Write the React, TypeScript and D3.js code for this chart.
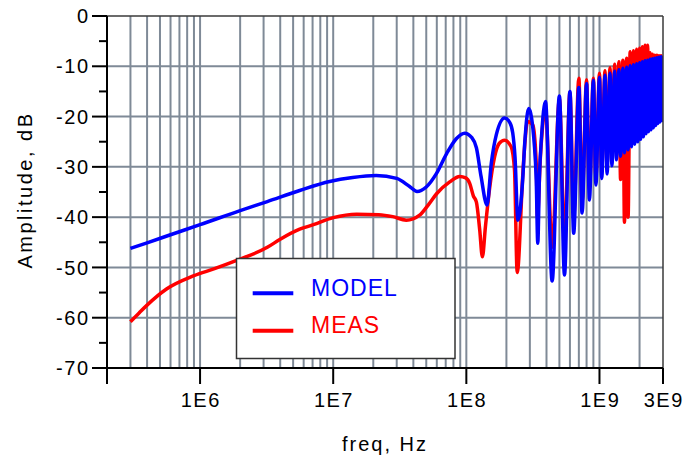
import React from 'react';
import * as d3 from 'd3';

const W = 685;
const H = 459;
const PL = 107, PR = 663, PT = 16, PB = 368;

// x axis ticks
const xTickValues = [1e6, 1e7, 1e8, 1e9, 3e9];
const xTickLabels = ['1E6', '1E7', '1E8', '1E9', '3E9'];
const yTickValues = [0, -10, -20, -30, -40, -50, -60, -70];
const yMinorTicks = [-5, -15, -25, -35, -45, -55, -65];

// MODEL: smooth low-frequency part and first resonances [freq Hz, dB]
const modelLow: [number, number][] = [
  [3e5, -46.2], [4e5, -45.1], [6e5, -43.5], [1e6, -41.5], [2e6, -38.7],
  [3.2e6, -36.9], [5.6e6, -34.7], [9.4e6, -32.9], [1.4e7, -32.1], [2.1e7, -31.7],
  [3e7, -32.3], [3.75e7, -33.9], [4.26e7, -34.9], [5e7, -34.0], [5.94e7, -31.4],
  [7.1e7, -27.4], [8.4e7, -24.4], [9.7e7, -23.3], [1.1e8, -24.2], [1.19e8, -26.2], [1.29e8, -31.9],
  [1.43e8, -37.6], [1.54e8, -29.3], [1.68e8, -23.6], [1.94e8, -20.3], [2.12e8, -21.2], [2.23e8, -23.2],
  [2.32e8, -28], [2.44e8, -40.6], [2.65e8, -32.6], [2.75e8, -25], [2.94e8, -18.4],
  [3.25e8, -26], [3.35e8, -32.6], [3.44e8, -45.2], [3.54e8, -32], [3.67e8, -24],
  [3.93e8, -17],
];

// MEAS: smooth low-frequency part and first resonances [freq Hz, dB]
const measLow: [number, number][] = [
  [3e5, -60.8], [3.5e5, -59], [4e5, -57.5], [5.6e5, -54.3], [8.9e5, -51.7],
  [1.3e6, -50.2], [1.8e6, -48.8], [3.2e6, -46], [4e6, -44.4], [5.6e6, -42.4],
  [7.1e6, -41.5], [1e7, -40.1], [1.5e7, -39.4], [2.2e7, -39.5], [2.8e7, -39.9],
  [3.54e7, -40.6], [4.46e7, -39.6], [5.2e7, -37.5], [6e7, -35.3], [7.5e7, -33],
  [8.9e7, -31.9], [9.9e7, -32.2], [1.06e8, -33.3], [1.13e8, -35.8], [1.19e8, -37],
  [1.26e8, -42.5], [1.32e8, -47.9], [1.39e8, -42], [1.49e8, -34.6], [1.63e8, -28],
  [1.77e8, -25.3], [1.94e8, -24.7], [2.17e8, -26], [2.3e8, -30.6], [2.41e8, -51],
  [2.65e8, -31.9], [2.74e8, -26], [2.88e8, -21], [3.16e8, -21.7], [3.35e8, -29.3],
  [3.42e8, -40], [3.6e8, -28], [3.93e8, -18.5],
];

// High-frequency resonance peaks (5E8 .. 3E9) and nulls (4.4E8 .. 2.94E9)
const hfPeakFreq = [
  5e8, 6e8, 7e8, 8e8, 9e8, 1.0e9, 1.1e9, 1.2e9, 1.3e9, 1.4e9, 1.5e9, 1.6e9, 1.7e9,
  1.8e9, 1.9e9, 2.0e9, 2.1e9, 2.2e9, 2.3e9, 2.4e9, 2.5e9, 2.6e9, 2.7e9, 2.8e9, 2.9e9, 3.0e9,
];
const hfNullFreq = [
  4.41e8, 5.46e8, 6.4e8, 7.4e8, 8.4e8, 9.4e8, 1.04e9, 1.14e9, 1.24e9, 1.34e9, 1.44e9,
  1.54e9, 1.64e9, 1.74e9, 1.84e9, 1.94e9, 2.04e9, 2.14e9, 2.24e9, 2.34e9, 2.44e9,
  2.54e9, 2.64e9, 2.74e9, 2.84e9, 2.94e9,
];
const modelPeakDb = [
  -15.9, -15.0, -14.2, -13.4, -12.8, -12.2, -11.8, -11.4, -11.0, -10.7, -10.4, -10.2, -9.9,
  -9.7, -9.5, -9.3, -9.1, -8.9, -8.8, -8.6, -8.5, -8.4, -8.3, -8.2, -8.1, -8.0,
];
const modelNullDb = [
  -52.7, -51.5, -43.2, -39.2, -36.6, -33.6, -32.3, -31.4, -29.8, -28.6, -27.9, -27.2, -26.6,
  -26.0, -25.5, -25.0, -24.5, -24.0, -23.4, -23.0, -22.6, -22.2, -21.8, -21.4, -21.1, -20.8,
];
const measPeakDb = [
  -16.5, -15.2, -12.4, -12.7, -12.4, -11.4, -10.9, -10.3, -9.6, -9.1, -8.8, -8.4, -7.1,
  -6.9, -6.6, -6.4, -6.1, -5.8, -5.8, -7.3, -7.6, -7.8, -7.8, -7.9, -7.9, -8.0,
];
const measNullDb = [
  -46, -45, -40, -37, -34.5, -32, -30.5, -29.5, -28, -27, -32.5, -41, -40,
  -25, -24.5, -24, -23.5, -23, -22.5, -22, -21.6, -21.2, -20.8, -20.4, -20.1, -19.8,
];

function buildSeries(
  low: [number, number][],
  peakDb: number[],
  nullDb: number[]
): [number, number][] {
  const pts: [number, number][] = [...low];
  hfPeakFreq.forEach((f, i) => pts.push([f, peakDb[i]]));
  hfNullFreq.forEach((f, i) => pts.push([f, nullDb[i]]));
  return pts.sort((a, b) => a[0] - b[0]);
}

const modelSeries = buildSeries(modelLow, modelPeakDb, modelNullDb);
const measSeries = buildSeries(measLow, measPeakDb, measNullDb);

const FONT = '"Liberation Sans", Arial, Helvetica, sans-serif';
const GRID = '#7f8a97';

export default function App() {
  const x = d3.scaleLog().domain([2e5, 3e9]).range([PL, PR]);
  const y = d3.scaleLinear().domain([-70, 0]).range([PB, PT]);

  const line = d3
    .line<[number, number]>()
    .x((d) => x(d[0]))
    .y((d) => y(d[1]))
    .curve(d3.curveMonotoneX);

  const gridX: number[] = [];
  for (let e = 5; e <= 9; e++) {
    for (let m = 1; m <= 9; m++) {
      const v = m * Math.pow(10, e);
      if (v > 2e5 * 1.0001 && v < 3e9 * 0.9999) gridX.push(v);
    }
  }

  return (
    <svg
      width={W}
      height={H}
      viewBox={`0 0 ${W} ${H}`}
      style={{ position: 'absolute', left: 0, top: 0, background: '#fff' }}
    >
      <defs>
        <clipPath id="plotClip">
          <rect x={PL} y={PT} width={PR - PL} height={PB - PT} />
        </clipPath>
      </defs>
      <rect x={0} y={0} width={W} height={H} fill="#fff" />

      {/* grid */}
      {gridX.map((v, i) => (
        <line key={'gx' + i} x1={x(v)} x2={x(v)} y1={PT} y2={PB} stroke={GRID} strokeWidth={2} />
      ))}
      {yTickValues
        .filter((v) => v !== 0 && v !== -70)
        .map((v) => (
          <line key={'gy' + v} x1={PL} x2={PR} y1={y(v)} y2={y(v)} stroke={GRID} strokeWidth={2} />
        ))}

      {/* curves */}
      <g clipPath="url(#plotClip)">
        <path d={line(measSeries) || ''} fill="none" stroke="#ff0000" strokeWidth={3.5} strokeLinejoin="round" />
        <path d={line(modelSeries) || ''} fill="none" stroke="#0000ff" strokeWidth={3.5} strokeLinejoin="round" />
      </g>

      {/* frame */}
      <line x1={PL} x2={PR} y1={PT} y2={PT} stroke="#3a3a3a" strokeWidth={1.5} />
      <line x1={PR} x2={PR} y1={PT} y2={PB} stroke="#3a3a3a" strokeWidth={1.5} />
      <line x1={PL} x2={PL} y1={PT} y2={PB + 16} stroke="#000" strokeWidth={2} />
      <line x1={PL} x2={PR} y1={PB} y2={PB} stroke="#000" strokeWidth={2} />

      {/* y ticks */}
      {yTickValues.map((v) => (
        <g key={'yt' + v}>
          <line x1={PL - 15} x2={PL} y1={y(v)} y2={y(v)} stroke="#000" strokeWidth={2} />
          <text
            x={89.5}
            y={y(v) + 7.2}
            textAnchor="end"
            fontFamily={FONT}
            fontSize={20}
            letterSpacing={1.5}
            fill="#000"
          >
            {String(v)}
          </text>
        </g>
      ))}
      {yMinorTicks.map((v) => (
        <line key={'ym' + v} x1={PL - 8} x2={PL} y1={y(v)} y2={y(v)} stroke="#000" strokeWidth={2} />
      ))}

      {/* x ticks */}
      {xTickValues.map((v, i) => (
        <g key={'xt' + v}>
          <line x1={x(v)} x2={x(v)} y1={PB} y2={PB + 16} stroke="#000" strokeWidth={2} />
          <text
            x={x(v) + 0.75}
            y={406.5}
            textAnchor="middle"
            fontFamily={FONT}
            fontSize={20}
            letterSpacing={1.5}
            fill="#000"
          >
            {xTickLabels[i]}
          </text>
        </g>
      ))}

      {/* axis titles */}
      <text
        x={385}
        y={450.5}
        textAnchor="middle"
        fontFamily={FONT}
        fontSize={20}
        letterSpacing={2}
        fill="#000"
      >
        freq, Hz
      </text>
      <text
        transform={`translate(32, 190) rotate(-90)`}
        textAnchor="middle"
        fontFamily={FONT}
        fontSize={20}
        letterSpacing={2.5}
        fill="#000"
      >
        Amplitude, dB
      </text>

      {/* legend */}
      <rect x={236.5} y={258.5} width={218.5} height={100} fill="#fff" stroke="#333" strokeWidth={1.5} />
      <line x1={252.7} x2={293.3} y1={293.3} y2={293.3} stroke="#0000ff" strokeWidth={4} />
      <text x={311} y={296} fontFamily={FONT} fontSize={23} letterSpacing={1} fill="#0000ff">
        MODEL
      </text>
      <line x1={252.7} x2={293.3} y1={330.7} y2={330.7} stroke="#ff0000" strokeWidth={4} />
      <text x={311} y={332.7} fontFamily={FONT} fontSize={23} letterSpacing={1} fill="#ff0000">
        MEAS
      </text>
    </svg>
  );
}
